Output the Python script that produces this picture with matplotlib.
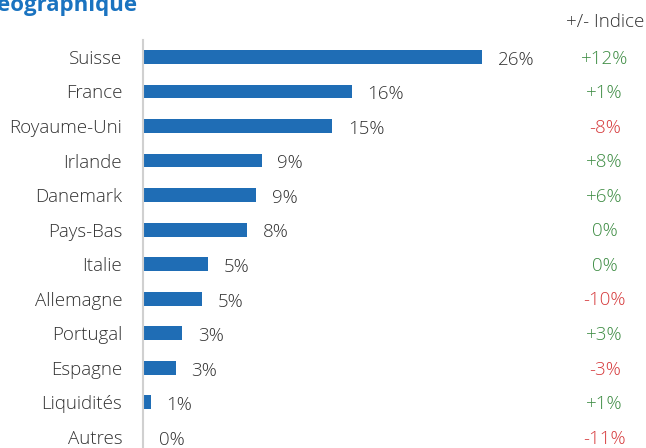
import matplotlib.pyplot as plt

# Répartition géographique
pays = ["Suisse", "France", "Royaume-Uni", "Irlande", "Danemark", "Pays-Bas",
        "Italie", "Allemagne", "Portugal", "Espagne", "Liquidités", "Autres"]
poids = [26, 16, 14.5, 9.1, 8.7, 8, 5, 4.5, 3, 2.5, 0.6, 0]
etiquettes = ["26%", "16%", "15%", "9%", "9%", "8%", "5%", "5%", "3%", "3%", "1%", "0%"]
indice = [12, 1, -8, 8, 6, 0, 0, -10, 3, -3, 1, -11]

plt.rcParams['font.family'] = ['Open Sans', 'DejaVu Sans']

fig = plt.figure(figsize=(6.46, 4.48), dpi=100)
ax = fig.add_axes([143 / 646, 0, 1 - 143 / 646, 1 - 40 / 448])

y = range(len(pays))
ax.barh(y, poids, height=0.4, color='#1f6db5')
ax.set_xlim(0, (646 - 143) / 13.04)
ax.set_ylim(len(pays) - 1 + 0.32, -0.49)

for i, v in enumerate(poids):
    ax.text(v + 1.2, i + 0.08, etiquettes[i], va='center', ha='left', fontsize=13.5,
            color='#333333', fontweight='light')
    s = f"{indice[i]:+d}%" if indice[i] != 0 else "0%"
    col = '#d63a3c' if indice[i] < 0 else '#3d8c43'
    ax.text(35.4, i + 0.05, s, va='center', ha='center', fontsize=13.5, color=col,
            fontweight='light')

ax.set_yticks(list(y))
ax.set_yticklabels(pays, fontsize=13.5, color='#333333', fontweight='light')
ax.tick_params(axis='y', length=0, pad=15)
ax.set_xticks([])
for sp in ['top', 'right', 'bottom']:
    ax.spines[sp].set_visible(False)
ax.spines['left'].set_color('#d0d0d0')
ax.spines['left'].set_linewidth(1.5)

fig.text(605 / 646, 1 - 22 / 448, "+/- Indice", ha='center', va='center', fontsize=13.5,
         color='#333333', fontweight='light')
fig.text(-0.005, 1 - 6 / 448, "éographique", ha='left', va='center', fontsize=16,
         fontweight='bold', color='#1a73c0')

fig.savefig("out.png", dpi=100)
